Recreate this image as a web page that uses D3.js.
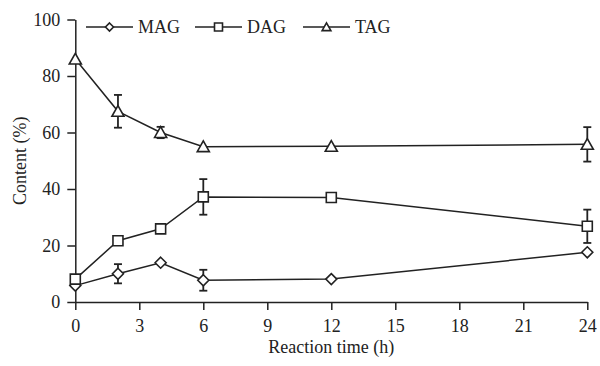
<!DOCTYPE html>
<html>
<head>
<meta charset="utf-8">
<script src="https://cdn.jsdelivr.net/npm/d3@7"></script>
<style>
  body { margin: 0; background: #fff; }
  text { font-family: "Liberation Serif", "Times New Roman", serif; fill: #222; }
</style>
</head>
<body>
<script>
// data
var hours = [0, 2, 4, 6, 12, 24];
var magValues = [5.8, 10.0, 13.9, 7.7, 8.1, 17.6];
var magErrors = [0, 3.4, 0, 3.7, 0, 0];
var dagValues = [8.1, 21.7, 25.9, 37.2, 37.0, 26.8];
var dagErrors = [0, 0, 0, 6.3, 0, 5.9];
var tagValues = [86.0, 67.5, 60.0, 55.0, 55.1, 55.8];
var tagErrors = [0, 5.8, 2.0, 0, 0, 6.1];
var xTicks = [0, 3, 6, 9, 12, 15, 18, 21, 24];
var yTicks = [0, 20, 40, 60, 80, 100];

var w = 600, h = 366;
var margin = {top: 19.5, right: 12.7, bottom: 64, left: 75.3};

var svg = d3.select("body").append("svg")
    .attr("width", w)
    .attr("height", h);

var xScale = d3.scaleLinear().domain([0, 24]).range([margin.left, w - margin.right]);
var yScale = d3.scaleLinear().domain([0, 100]).range([h - margin.bottom, margin.top]);

// marker shapes
function diamond(s) {
    var r = s / 2;
    return "M0," + (-r) + "L" + r + ",0L0," + r + "L" + (-r) + ",0Z";
}
function square(s) {
    var r = s / 2;
    return "M" + (-r) + "," + (-r) + "H" + r + "V" + r + "H" + (-r) + "Z";
}
function triangle(s) {
    var r = s / 2;
    return "M0," + (-r * 1.05) + "L" + (r * 1.1) + "," + (r * 0.9) + "L" + (-r * 1.1) + "," + (r * 0.9) + "Z";
}

var series = [
    {name: "MAG", values: magValues, errors: magErrors, shape: diamond, size: 11, legendSize: 8},
    {name: "DAG", values: dagValues, errors: dagErrors, shape: square, size: 10, legendSize: 8},
    {name: "TAG", values: tagValues, errors: tagErrors, shape: triangle, size: 11, legendSize: 8}
];

// axes
var xAxis = d3.axisBottom(xScale).tickValues(xTicks).tickSize(8).tickSizeOuter(0).tickPadding(9);
var yAxis = d3.axisLeft(yScale).tickValues(yTicks).tickSize(8).tickSizeOuter(0).tickPadding(7);

var gx = svg.append("g")
    .attr("transform", "translate(0," + yScale(0) + ")")
    .call(xAxis);
var gy = svg.append("g")
    .attr("transform", "translate(" + xScale(0) + ",0)")
    .call(yAxis);

[gx, gy].forEach(function(g) {
    g.selectAll("path, line").attr("stroke", "#222").attr("stroke-width", 1.5);
    g.selectAll("text").attr("font-size", "18px").attr("fill", "#222")
        .attr("font-family", "'Liberation Serif', serif");
});

// axis titles
svg.append("text")
    .attr("x", (xScale(0) + xScale(24)) / 2)
    .attr("y", 353)
    .attr("text-anchor", "middle")
    .attr("font-size", "18px")
    .text("Reaction time (h)");

svg.append("text")
    .attr("transform", "translate(26," + (yScale(50)) + ") rotate(-90)")
    .attr("text-anchor", "middle")
    .attr("font-size", "18px")
    .text("Content (%)");

var line = d3.line()
    .x(function(d, i) { return xScale(hours[i]); })
    .y(function(d) { return yScale(d); });

// lines
series.forEach(function(s) {
    svg.append("path")
        .datum(s.values)
        .attr("d", line)
        .attr("fill", "none")
        .attr("stroke", "#222")
        .attr("stroke-width", 1.5);
});

// error bars
series.forEach(function(s) {
    s.values.forEach(function(v, i) {
        var e = s.errors[i];
        if (!e) return;
        var x = xScale(hours[i]);
        var g = svg.append("g").attr("stroke", "#222").attr("stroke-width", 1.8);
        g.append("line").attr("x1", x).attr("x2", x)
            .attr("y1", yScale(v - e)).attr("y2", yScale(v + e));
        g.append("line").attr("x1", x - 4).attr("x2", x + 4)
            .attr("y1", yScale(v + e)).attr("y2", yScale(v + e));
        g.append("line").attr("x1", x - 4).attr("x2", x + 4)
            .attr("y1", yScale(v - e)).attr("y2", yScale(v - e));
    });
});

// markers
series.forEach(function(s) {
    svg.selectAll(null)
        .data(s.values)
        .enter()
        .append("path")
        .attr("transform", function(d, i) {
            return "translate(" + xScale(hours[i]) + "," + yScale(d) + ")";
        })
        .attr("d", s.shape(s.size))
        .attr("fill", "#fff")
        .attr("stroke", "#222")
        .attr("stroke-width", 1.6);
});

// legend
var legendX = [86, 195, 303];
var legend = svg.selectAll(".legend")
    .data(series)
    .enter()
    .append("g")
    .attr("class", "legend")
    .attr("transform", function(d, i) { return "translate(" + legendX[i] + ",27)"; });

legend.append("line")
    .attr("x1", 0).attr("x2", 47)
    .attr("y1", 0).attr("y2", 0)
    .attr("stroke", "#222").attr("stroke-width", 1.5);
legend.append("path")
    .attr("transform", "translate(23.5,0)")
    .attr("d", function(d) { return d.shape(d.legendSize); })
    .attr("fill", "#fff")
    .attr("stroke", "#222")
    .attr("stroke-width", 1.6);
legend.append("text")
    .attr("x", 52)
    .attr("y", 6)
    .attr("font-size", "18px")
    .text(function(d) { return d.name; });
</script>
</body>
</html>
